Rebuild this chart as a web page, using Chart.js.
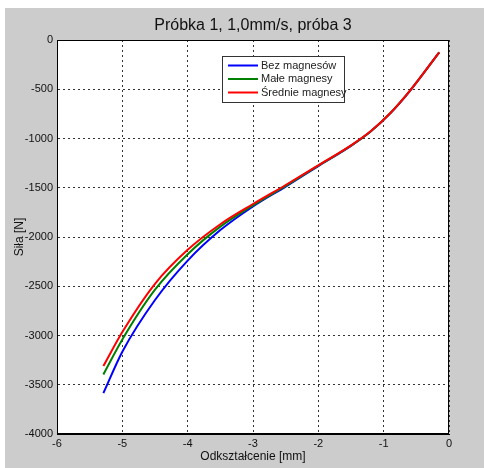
<!DOCTYPE html>
<html>
<head>
<meta charset="utf-8">
<script src="https://cdn.jsdelivr.net/npm/chart.js@4/dist/chart.umd.min.js"></script>
<style>
  body { margin: 0; background: #fff; }
  #wrap { width: 484px; height: 468px; }
</style>
</head>
<body>
<div id="wrap"><canvas id="myChart" width="484" height="468"></canvas></div>
<script>
// odkształcenie [mm]
var xs = [-5.29, -5.0, -4.5, -4.0, -3.5, -3.0, -2.5, -2.0, -1.5, -1.2, -0.9, -0.6, -0.15]
// siła [N]
var bez = [-3585, -3165, -2640, -2240, -1930, -1690, -1488, -1280, -1075, -930, -745, -518, -125]
var male = [-3395, -3040, -2535, -2175, -1895, -1678, -1480, -1276, -1072, -928, -744, -517, -125]
var srednie = [-3310, -2965, -2475, -2130, -1870, -1665, -1472, -1272, -1069, -926, -743, -516, -125]
var nazwy = ['Bez magnesów', 'Małe magnesy', 'Średnie magnesy']
var kolory = ['#0000ff', '#008000', '#ff0000']
var tytul = 'Próbka 1, 1,0mm/s, próba 3'

function punkty(ys) {
  return xs.map(function(x, i) { return { x: x, y: ys[i] } })
}

var FONT = '"Liberation Sans", Arial, sans-serif'

// szare tło jak w matlabie + biały obszar wykresu
var tlo = {
  id: 'tlo',
  beforeDraw: function(chart) {
    var ctx = chart.ctx, a = chart.chartArea
    ctx.save()
    ctx.fillStyle = '#cccccc'
    ctx.fillRect(5, 8, 479, 460)
    ctx.fillStyle = '#ffffff'
    ctx.fillRect(a.left, a.top, a.right - a.left, a.bottom - a.top)
    ctx.restore()
  },
  afterDraw: function(chart) {
    var ctx = chart.ctx, a = chart.chartArea
    ctx.save()
    ctx.strokeStyle = '#000'
    ctx.lineWidth = 1
    ctx.strokeRect(a.left + 0.5, a.top + 0.5, a.right - a.left - 1, a.bottom - a.top - 1)

    // tytuł nad środkiem osi
    ctx.fillStyle = '#111'
    ctx.font = '16px ' + FONT
    ctx.textAlign = 'center'
    ctx.textBaseline = 'middle'
    ctx.fillText(tytul, (a.left + a.right) / 2, a.top - 14)

    // legenda w ramce
    var lx = a.left + 165, ly = a.top + 16, w = 122, h = 46
    ctx.textAlign = 'left'
    ctx.fillStyle = '#fff'
    ctx.fillRect(lx, ly, w, h)
    ctx.strokeStyle = '#333'
    ctx.strokeRect(lx + 0.5, ly + 0.5, w, h)
    ctx.font = '11px ' + FONT
    chart.data.datasets.forEach(function(ds, i) {
      var yy = ly + 9.5 + i * 13.5
      ctx.strokeStyle = ds.borderColor
      ctx.lineWidth = 2
      ctx.beginPath()
      ctx.moveTo(lx + 6, yy)
      ctx.lineTo(lx + 36, yy)
      ctx.stroke()
      ctx.fillStyle = '#222'
      ctx.fillText(ds.label, lx + 39, yy)
    })
    ctx.restore()
  }
}

var dane = [bez, male, srednie]
var ctx = document.getElementById('myChart').getContext('2d')
var chart = new Chart(ctx, {
  type: 'scatter',
  data: {
    datasets: dane.map(function(ys, i) {
      return {
        label: nazwy[i],
        data: punkty(ys),
        showLine: true,
        borderColor: kolory[i],
        backgroundColor: kolory[i],
        borderWidth: 2,
        pointRadius: 0,
        cubicInterpolationMode: 'monotone',
        order: 3 - i
      }
    })
  },
  options: {
    responsive: false,
    animation: false,
    layout: { padding: { left: 0, right: 35, top: 40, bottom: 0 } },
    plugins: {
      legend: { display: false },
      tooltip: { enabled: false }
    },
    scales: {
      x: {
        min: -6, max: 0,
        ticks: { stepSize: 1, color: '#111', font: { family: FONT, size: 11 }, padding: 3, maxRotation: 0,
          callback: function(v) { return String(v) } },
        grid: { color: '#333', drawTicks: false, tickLength: 0 },
        border: { color: '#000', dash: [2, 3] },
        title: { display: true, text: 'Odkształcenie [mm]', color: '#111', font: { family: FONT, size: 12 }, padding: { top: 0, bottom: 4 } },
        afterFit: function(s) { s.height = 34 }
      },
      y: {
        min: -4000, max: 0,
        ticks: { stepSize: 500, color: '#111', font: { family: FONT, size: 11 }, padding: 4,
          callback: function(v) { return String(v) } },
        grid: { color: '#333', drawTicks: false, tickLength: 0 },
        border: { color: '#000', dash: [2, 3] },
        title: { display: true, text: 'Siła [N]', color: '#111', font: { family: FONT, size: 12 }, padding: { top: 12, bottom: 0 } },
        afterFit: function(s) { s.width = 57 }
      }
    }
  },
  plugins: [tlo]
})
</script>
</body>
</html>
